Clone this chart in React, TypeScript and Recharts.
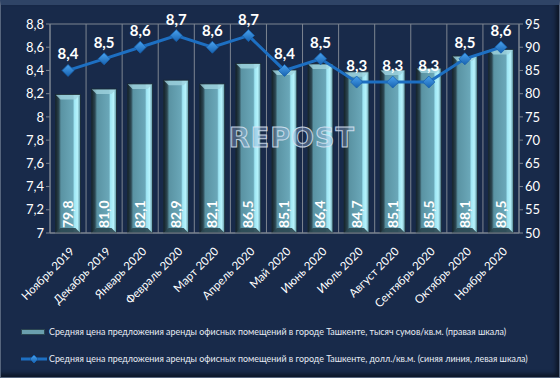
import React from "react";
import {
  ComposedChart,
  Bar,
  Line,
  XAxis,
  YAxis,
  CartesianGrid,
  LabelList,
} from "recharts";

const months = [
  "Ноябрь 2019",
  "Декабрь 2019",
  "Январь 2020",
  "Февраль 2020",
  "Март 2020",
  "Апрель 2020",
  "Май 2020",
  "Июнь 2020",
  "Июль 2020",
  "Август 2020",
  "Сентябрь 2020",
  "Октябрь 2020",
  "Ноябрь 2020",
];
const sumPrices = [79.8, 81.0, 82.1, 82.9, 82.1, 86.5, 85.1, 86.4, 84.7, 85.1, 85.5, 88.1, 89.5];
const usdPrices = [8.4, 8.5, 8.6, 8.7, 8.6, 8.7, 8.4, 8.5, 8.3, 8.3, 8.3, 8.5, 8.6];
const leftTicks = [7, 7.2, 7.4, 7.6, 7.8, 8, 8.2, 8.4, 8.6, 8.8];
const rightTicks = [50, 55, 60, 65, 70, 75, 80, 85, 90, 95];

const barName =
  "Средняя цена предложения аренды офисных помещений в городе Ташкенте, тысяч сумов/кв.м. (правая шкала)";
const lineName =
  "Средняя цена предложения аренды офисных помещений в городе Ташкенте, долл./кв.м. (синяя линия, левая шкала)";

const data = months.map((m, i) => ({ month: m, sum: sumPrices[i], usd: usdPrices[i] }));

const BG = "#182a4a";
const GRID = "#7d8591";
const LINE = "#1d6fc2";
const FONT = "Lato, 'Open Sans', sans-serif";

// axis ticks drop trailing zero (8 not 8,0), data labels keep one decimal
const tickComma = (v: number) => String(Number(v.toFixed(1))).replace(".", ",");
const comma = (v: number) => Number(v).toFixed(1).replace(".", ",");

function BevelBar(props: any) {
  const { x, y, width, height } = props;
  if (!height || height <= 0) return null;
  const b = 5;
  return (
    <g>
      <rect x={x} y={y} width={width} height={height} fill="url(#barFace)" />
      <polygon
        points={`${x},${y} ${x + width},${y} ${x + width - b},${y + b} ${x + b},${y + b}`}
        fill="#9fd3df"
        opacity={0.8}
      />
      <polygon
        points={`${x},${y + height} ${x + width},${y + height} ${x + width - b},${y + height - b} ${x + b},${y + height - b}`}
        fill="#2a4650"
        opacity={0.9}
      />
      <rect x={x} y={y} width={width} height={height} fill="none" stroke="#1a2a33" strokeWidth={0.8} />
    </g>
  );
}

function Diamond(props: any) {
  const { cx, cy } = props;
  if (cx == null || cy == null) return null;
  const r = 6;
  return (
    <polygon
      points={`${cx},${cy - r} ${cx + r},${cy} ${cx},${cy + r} ${cx - r},${cy}`}
      fill="url(#dia)"
      stroke="#1762b0"
      strokeWidth={0.8}
    />
  );
}

function BarValue(props: any) {
  const { x, y, width, height, value } = props;
  const cx = x + width / 2;
  const by = y + height - 5;
  return (
    <text
      x={cx}
      y={by}
      transform={`rotate(-90 ${cx} ${by})`}
      dy={5}
      fill="#ffffff"
      fontSize={14}
      fontWeight={700}
      fontFamily={FONT}
      textAnchor="start"
    >
      {comma(value)}
    </text>
  );
}

function MonthTick(props: any) {
  const { x, y, payload } = props;
  const tx = x + 7;
  const ty = y + 11;
  return (
    <text
      x={tx}
      y={ty}
      transform={`rotate(-45 ${tx} ${ty})`}
      fill="#ffffff"
      fontSize={11.5}
      fontFamily={FONT}
      textAnchor="end"
    >
      {payload.value}
    </text>
  );
}

export default function App() {
  const n = months.length;
  return (
    <div
      style={{
        position: "absolute",
        left: 0,
        top: 0,
        width: 560,
        height: 378,
        background: BG,
        boxSizing: "border-box",
        border: "1px solid #56657d",
        borderTop: "5px solid #2f4466",
        boxShadow: "inset -3px -3px 4px rgba(0,0,0,0.5)",
        overflow: "hidden",
      }}
    >
      <div style={{ position: "absolute", left: -1, top: -5 }}>
        <ComposedChart
          width={560}
          height={378}
          data={data}
          margin={{ top: 24, right: 0, left: 8, bottom: 65 }}
          barCategoryGap="15%"
        >
          <defs>
            <linearGradient id="barFace" x1="0" y1="0" x2="1" y2="0">
              <stop offset="0" stopColor="#152228" />
              <stop offset="0.14" stopColor="#2c4752" />
              <stop offset="0.22" stopColor="#5a93a3" />
              <stop offset="0.7" stopColor="#6aa7b8" />
              <stop offset="0.76" stopColor="#9fe6f4" />
              <stop offset="0.88" stopColor="#b6f3fc" />
              <stop offset="1" stopColor="#5c8e9c" />
            </linearGradient>
            <linearGradient id="dia" x1="0" y1="0" x2="0" y2="1">
              <stop offset="0" stopColor="#4aa3ef" />
              <stop offset="1" stopColor="#1762b0" />
            </linearGradient>
          </defs>
          <CartesianGrid
            stroke={GRID}
            strokeWidth={1}
            verticalCoordinatesGenerator={({ offset }: any) =>
              Array.from({ length: n + 1 }, (_, i) => offset.left + (i * offset.width) / n)
            }
          />
          <XAxis
            dataKey="month"
            interval={0}
            height={80}
            tick={<MonthTick />}
            stroke={GRID}
            tickLine={false}
          />
          <YAxis
            yAxisId="left"
            domain={[7, 8.8]}
            ticks={leftTicks}
            tickFormatter={tickComma}
            width={42}
            stroke={GRID}
            tickSize={4}
            tick={{ fill: "#ffffff", fontSize: 13, fontFamily: FONT }}
            allowDataOverflow
          />
          <YAxis
            yAxisId="right"
            orientation="right"
            domain={[50, 95]}
            ticks={rightTicks}
            width={41}
            stroke={GRID}
            tickSize={4}
            tick={{ fill: "#ffffff", fontSize: 13, fontFamily: FONT }}
          />
          <Bar
            yAxisId="right"
            dataKey="sum"
            name={barName}
            shape={<BevelBar />}
            isAnimationActive={false}
          >
            <LabelList dataKey="sum" content={<BarValue />} />
          </Bar>
          <Line
            yAxisId="left"
            dataKey="usd"
            name={lineName}
            stroke={LINE}
            strokeWidth={3}
            dot={<Diamond />}
            activeDot={false}
            isAnimationActive={false}
          >
            <LabelList
              dataKey="usd"
              position="top"
              offset={11}
              formatter={(v: any) => comma(v)}
              fill="#ffffff"
              fontSize={15}
              fontWeight={700}
              fontFamily={FONT}
            />
          </Line>
        </ComposedChart>
      </div>
      <div
        style={{
          position: "absolute",
          left: 228,
          top: 117,
          fontFamily: "'DejaVu Sans', sans-serif",
          fontWeight: 700,
          fontSize: 27,
          letterSpacing: 1,
          color: "rgba(150,175,215,0.4)",
          WebkitTextStroke: "1px rgba(219,230,245,0.85)",
          pointerEvents: "none",
        }}
      >
        REPOST
      </div>
      <div
        style={{
          position: "absolute",
          left: 20,
          top: 313,
          fontFamily: FONT,
          fontSize: 8.9,
          color: "#e8edf5",
          lineHeight: "27px",
          whiteSpace: "nowrap",
        }}
      >
        <div style={{ display: "flex", alignItems: "center" }}>
          <span
            style={{
              display: "inline-block",
              width: 22,
              height: 4,
              background: "#6a9fae",
              border: "1px solid #2b4652",
              marginRight: 4,
            }}
          />
          {barName}
        </div>
        <div style={{ display: "flex", alignItems: "center" }}>
          <svg width={26} height={10} style={{ marginRight: 2 }}>
            <defs>
              <linearGradient id="dia2" x1="0" y1="0" x2="0" y2="1">
                <stop offset="0" stopColor="#4aa3ef" />
                <stop offset="1" stopColor="#1762b0" />
              </linearGradient>
            </defs>
            <line x1={0} y1={5} x2={26} y2={5} stroke={LINE} strokeWidth={3} />
            <polygon points="13,1 17,5 13,9 9,5" fill="url(#dia2)" stroke="#1762b0" />
          </svg>
          {lineName}
        </div>
      </div>
    </div>
  );
}
